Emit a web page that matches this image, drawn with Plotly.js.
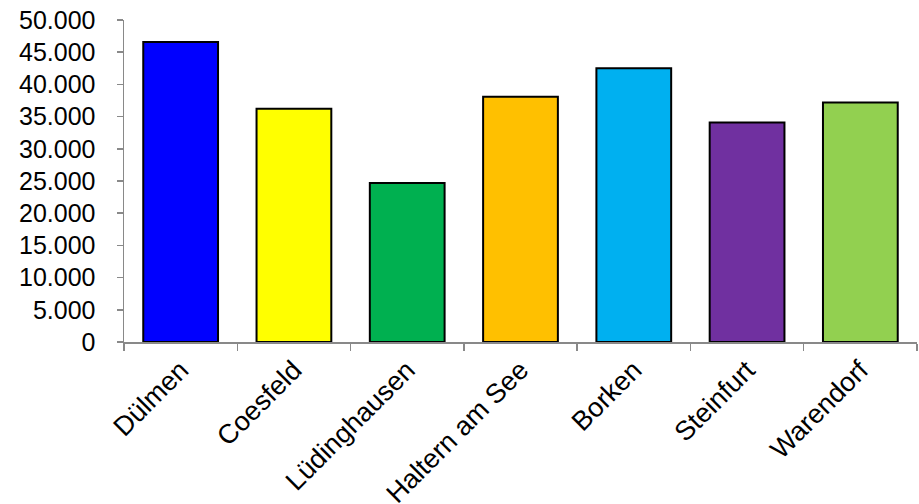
<!DOCTYPE html>
<html>
<head>
<meta charset="utf-8">
<script src="https://cdn.plot.ly/plotly-3.0.1.min.js"></script>
<style>html,body{margin:0;padding:0;background:#fff;}#chart{width:919px;height:504px;}</style>
</head>
<body>
<div id="chart"></div>
<script>
const categories = ["Dülmen", "Coesfeld", "Lüdinghausen", "Haltern am See", "Borken", "Steinfurt", "Warendorf"];
const values = [46600, 36200, 24700, 38100, 42500, 34100, 37200];
const barColors = ["#0000FF", "#FFFF00", "#00B050", "#FFC000", "#00B0F0", "#7030A0", "#92D050"];
const yTickVals = [0, 5000, 10000, 15000, 20000, 25000, 30000, 35000, 40000, 45000, 50000];

const trace = {
  type: "bar",
  x: categories,
  y: values,
  marker: { color: barColors, line: { color: "#000000", width: 2 } },
  hoverinfo: "x+y"
};

const layout = {
  width: 919,
  height: 504,
  margin: { l: 124, r: 2, t: 20, b: 162, pad: 0 },
  paper_bgcolor: "#ffffff",
  plot_bgcolor: "#ffffff",
  separators: ",.",
  showlegend: false,
  bargap: 0.34,
  font: { family: "Liberation Sans, Arial, sans-serif", size: 25, color: "#000000" },
  xaxis: {
    type: "category",
    tickson: "boundaries",
    ticks: "outside",
    ticklen: 7,
    tickcolor: "#898989",
    tickwidth: 1.5,
    showline: true,
    linecolor: "#898989",
    linewidth: 1.5,
    showgrid: false,
    zeroline: false,
    tickangle: -45,
    automargin: false,
    tickfont: { size: 27 }
  },
  yaxis: {
    range: [0, 50000],
    tickvals: yTickVals,
    tickformat: ",d",
    ticks: "outside",
    ticklen: 6,
    tickcolor: "#898989",
    tickwidth: 1.5,
    showline: true,
    linecolor: "#898989",
    linewidth: 1.5,
    showgrid: false,
    zeroline: false,
    automargin: false,
    ticklabelstandoff: 16,
    tickfont: { size: 25 }
  }
};

Plotly.newPlot("chart", [trace], layout, { displayModeBar: false, staticPlot: true });
</script>
</body>
</html>
